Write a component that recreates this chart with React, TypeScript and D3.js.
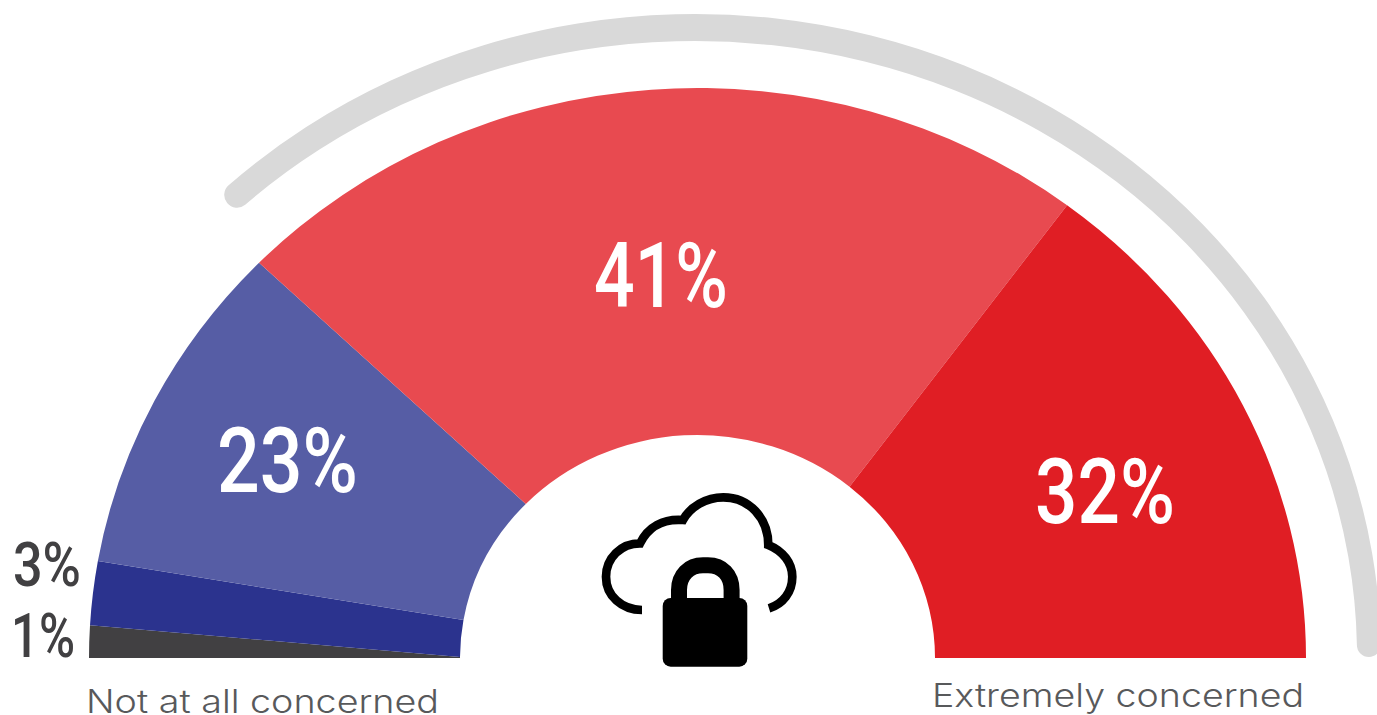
import React from "react";
import * as d3 from "d3";

const categories = ["Not at all concerned", "", "", "", "Extremely concerned"];
const values = [1, 3, 23, 41, 32];
const colors = ["#414042", "#2b338e", "#565da5", "#e84a50", "#e01e24"];
// Boundary angles (degrees from the left baseline) — slices are not strictly radial
const outerBoundaryDeg = [0, 3.3, 9.8, 43.9, 127.4, 180];
const innerBoundaryDeg = [0, 0.25, 9.8, 43.7, 129.8, 180];

const W = 1377, H = 715;
const cx = 697.5, cy = 658;
const rxOuter = 608.5, ryOuter = 570;
const rxInner = 237.5, ryInner = 223;

const cumulative = [0, ...d3.cumsum(values)];
const outerScale = d3.scaleLinear().domain(cumulative).range(outerBoundaryDeg);
const innerScale = d3.scaleLinear().domain(cumulative).range(innerBoundaryDeg);

const pt = (rx: number, ry: number, deg: number): [number, number] => {
  const a = (deg * Math.PI) / 180;
  return [cx - rx * Math.cos(a), cy - ry * Math.sin(a)];
};

function slicePath(c0: number, c1: number): string {
  const a0 = outerScale(c0), a1 = outerScale(c1), b0 = innerScale(c0), b1 = innerScale(c1);
  const [x0, y0] = pt(rxOuter, ryOuter, a0);
  const [x1, y1] = pt(rxOuter, ryOuter, a1);
  const [x2, y2] = pt(rxInner, ryInner, b1);
  const [x3, y3] = pt(rxInner, ryInner, b0);
  return `M${x0},${y0}A${rxOuter},${ryOuter} 0 0 1 ${x1},${y1}L${x2},${y2}A${rxInner},${ryInner} 0 0 0 ${x3},${y3}Z`;
}

const numFont = "'Roboto',sans-serif";
const labelFont = "'Inter','Lato',sans-serif";

const pctLabels = [
  { i: 0, x: 11, y: 657, w: 64, fill: "#414042", size: 62 },
  { i: 1, x: 13, y: 586, w: 68, fill: "#414042", size: 62 },
  { i: 2, x: 217, y: 492, w: 141, fill: "#fff", size: 91 },
  { i: 3, x: 594, y: 307, w: 134, fill: "#fff", size: 91 },
  { i: 4, x: 1035, y: 523, w: 140, fill: "#fff", size: 91 },
];

const trackPath =
  "M228.9,185A686,642 0 0 1 1380.9,645A12,12 0 0 1 1356.9,645A662,615 0 0 0 245.2,204.8A12.8,12.8 0 0 1 228.9,185Z";

const cloudPath =
  "M642,610C622,610 606,596 606,576.7C606,558 621,543.3 640,543.3C648,527 663,518.5 683,520C690,507 706,497.3 723.3,497.3C749,497.3 768.3,518 768.3,545C783,551 792.3,563 792.3,576.7C792.3,592 783,604 769,608.3";

export default function App() {
  return (
    <svg width={W} height={H} viewBox={`0 0 ${W} ${H}`} style={{ position: "fixed", left: 0, top: 0, background: "#fff" }}>
      <path d={trackPath} fill="#d9d9d9" />
      {values.map((v, i) => (
        <path key={i} d={slicePath(cumulative[i], cumulative[i + 1])} fill={colors[i]} />
      ))}
      {pctLabels.map((l) => (
        <text key={l.i} x={l.x} y={l.y} fontFamily={numFont} fontSize={l.size} fontWeight={500} fill={l.fill}
          textLength={l.w} lengthAdjust="spacingAndGlyphs">
          {`${values[l.i]}%`}
        </text>
      ))}
      <text x={86} y={713} fontFamily={labelFont} fontSize={32} fontWeight={300} fill="#58595b" textLength={353} lengthAdjust="spacingAndGlyphs">{categories[0]}</text>
      <text x={932} y={707} fontFamily={labelFont} fontSize={32} fontWeight={300} fill="#58595b" textLength={372} lengthAdjust="spacingAndGlyphs">{categories[4]}</text>
      <g fill="none" stroke="#000" strokeWidth={8.7}>
        <path d={cloudPath} />
        <path d="M679,600V590C679,575 689,565.3 703,565.3H708C722,565.3 731.6,575 731.6,590V600" strokeWidth={16} />
      </g>
      <rect x={662.7} y={598} width={84.6} height={68.7} rx={8} fill="#000" />
    </svg>
  );
}
